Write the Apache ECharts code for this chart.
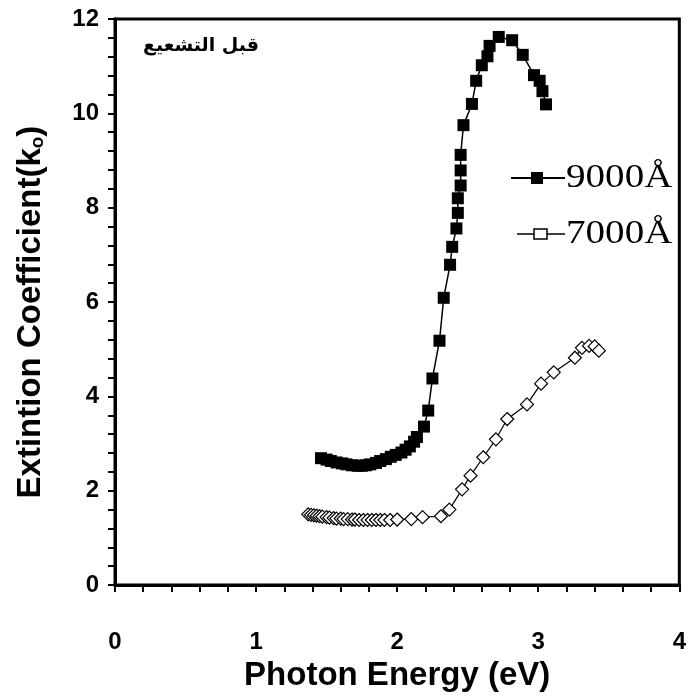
<!DOCTYPE html>
<html>
<head>
<meta charset="utf-8">
<script src="https://cdn.jsdelivr.net/npm/echarts@6/dist/echarts.min.js"></script>
<style>html,body{margin:0;padding:0;background:#fff;}#c{width:689px;height:697px;}</style>
</head>
<body>
<div id="c"></div>
<script>
// Data
var xTicks = [0, 1, 2, 3, 4];
var yTicks = [0, 2, 4, 6, 8, 10, 12];
var s9000x = [1.46,1.50,1.53,1.57,1.61,1.64,1.68,1.72,1.75,1.78,1.81,1.85,1.88,1.92,1.955,1.99,2.03,2.06,2.09,2.12,2.14,2.19,2.22,2.25,2.30,2.33,2.375,2.39,2.42,2.43,2.43,2.45,2.45,2.45,2.47,2.53,2.56,2.60,2.64,2.655,2.72,2.815,2.89,2.97,3.01,3.03,3.055];
var s9000y = [2.69,2.66,2.63,2.60,2.58,2.56,2.54,2.53,2.53,2.54,2.56,2.59,2.63,2.67,2.72,2.76,2.81,2.87,2.94,3.04,3.14,3.36,3.70,4.38,5.18,6.09,6.79,7.17,7.56,7.89,8.20,8.47,8.79,9.12,9.75,10.20,10.69,11.02,11.21,11.43,11.62,11.55,11.24,10.81,10.69,10.47,10.19];
var s7000x = [1.37,1.39,1.41,1.43,1.45,1.47,1.50,1.52,1.55,1.57,1.60,1.62,1.65,1.68,1.70,1.73,1.76,1.79,1.82,1.85,1.88,1.91,1.95,2.00,2.10,2.18,2.31,2.37,2.46,2.52,2.61,2.70,2.78,2.92,3.02,3.11,3.26,3.31,3.36,3.40,3.43];
var s7000y = [1.50,1.49,1.48,1.47,1.46,1.45,1.44,1.43,1.42,1.41,1.41,1.40,1.40,1.39,1.39,1.38,1.38,1.38,1.38,1.38,1.38,1.38,1.38,1.39,1.40,1.44,1.46,1.60,2.03,2.32,2.71,3.09,3.52,3.83,4.27,4.51,4.82,5.03,5.07,5.06,4.97];
var seriesNames = ['9000Å', '7000Å'];
var annotation = 'قبل التشعيع';

function zip(a, b) { return a.map(function (v, i) { return [v, b[i]]; }); }

var chart = echarts.init(document.getElementById('c'), null, {renderer: 'canvas'});
var axisFont = {fontFamily: 'Liberation Sans, Arial', fontWeight: 'bold', fontSize: 24, color: '#000'};
var option = {
  animation: false,
  backgroundColor: '#fff',
  grid: {left: 115, right: 8, top: 19, bottom: 94, show: true, borderColor: '#000', borderWidth: 3, containLabel: false},
  xAxis: {
    type: 'value', min: xTicks[0], max: xTicks[xTicks.length - 1], interval: 1,
    axisLine: {show: true, onZero: false, lineStyle: {color: '#000', width: 3}},
    axisTick: {show: true, inside: false, length: 7, lineStyle: {color: '#000', width: 2}},
    minorTick: {show: true, splitNumber: 5, length: 7, lineStyle: {color: '#000', width: 2}},
    splitLine: {show: false},
    axisLabel: Object.assign({margin: 45}, axisFont),
    name: 'Photon Energy (eV)', nameLocation: 'middle', nameGap: 58,
    nameTextStyle: {fontFamily: 'Liberation Sans, Arial', fontWeight: 'bold', fontSize: 33, color: '#000'}
  },
  yAxis: {
    type: 'value', min: yTicks[0], max: yTicks[yTicks.length - 1], interval: 2,
    axisLine: {show: true, onZero: false, lineStyle: {color: '#000', width: 3}},
    axisTick: {show: true, inside: false, length: 7, lineStyle: {color: '#000', width: 2}},
    minorTick: {show: true, splitNumber: 5, length: 7, lineStyle: {color: '#000', width: 2}},
    splitLine: {show: false},
    axisLabel: Object.assign({margin: 16}, axisFont),
    name: '{m|Extintion Coefficient(k}{s|o}{m|)}', nameLocation: 'middle', nameGap: 68, nameRotate: 90,
    nameTextStyle: {
      padding: [0, 0, 0, -20],
      rich: {
        m: {fontFamily: 'Liberation Sans, Arial', fontWeight: 'bold', fontSize: 33, color: '#000'},
        s: {fontFamily: 'Liberation Sans, Arial', fontWeight: 'bold', fontSize: 19, color: '#000', verticalAlign: 'bottom', padding: [10, 0, 0, 0]}
      }
    }
  },
  series: [
    {
      name: seriesNames[0], type: 'line', data: zip(s9000x, s9000y),
      symbol: 'rect', symbolSize: 12, showSymbol: true,
      lineStyle: {color: '#000', width: 1.5},
      itemStyle: {color: '#000', borderColor: '#000', borderWidth: 0},
      z: 3
    },
    {
      name: seriesNames[1], type: 'line', data: zip(s7000x, s7000y),
      symbol: 'diamond', symbolSize: 13, showSymbol: true,
      lineStyle: {color: '#000', width: 1.2},
      itemStyle: {color: '#fff', borderColor: '#000', borderWidth: 1.2},
      z: 2
    }
  ],
  graphic: [
    {type: 'text', left: 143, top: 37, style: {text: annotation, font: 'bold 19px "DejaVu Sans"', fill: '#000'}},
    // legend 9000
    {type: 'line', shape: {x1: 511, y1: 178, x2: 565, y2: 178}, style: {stroke: '#000', lineWidth: 2}},
    {type: 'rect', shape: {x: 531, y: 172, width: 12, height: 12}, style: {fill: '#000'}},
    {type: 'text', x: 566, y: 161, scaleX: 1.15, style: {text: seriesNames[0], font: '34px "Liberation Serif"', fill: '#000'}},
    // legend 7000
    {type: 'line', shape: {x1: 517, y1: 234, x2: 565, y2: 234}, style: {stroke: '#000', lineWidth: 1.5}},
    {type: 'rect', shape: {x: 534, y: 229, width: 13, height: 10}, style: {fill: '#fff', stroke: '#000', lineWidth: 1.5}},
    {type: 'text', x: 566, y: 217, scaleX: 1.15, style: {text: seriesNames[1], font: '34px "Liberation Serif"', fill: '#000'}}
  ]
};
chart.setOption(option);
</script>
</body>
</html>
